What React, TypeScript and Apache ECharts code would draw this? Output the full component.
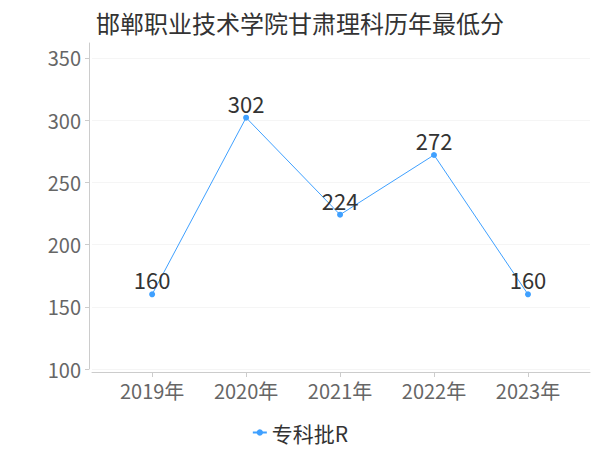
import React, { useEffect, useRef } from "react";
import * as echarts from "echarts";

const titleText = "邯郸职业技术学院甘肃理科历年最低分";
const categories = ["2019年", "2020年", "2021年", "2022年", "2023年"];
const seriesName = "专科批R";
const values = [160, 302, 224, 272, 160];
const yTicks = [100, 150, 200, 250, 300, 350];

export default function App() {
  const ref = useRef<HTMLDivElement>(null);
  useEffect(() => {
    const chart = echarts.init(ref.current!, null, { renderer: "svg" });
    const font = "Noto Sans CJK SC, sans-serif";
    chart.setOption({
      animation: false,
      textStyle: { fontFamily: font },
      title: {
        text: titleText,
        left: "center",
        top: 5,
        textStyle: { fontSize: 24, color: "#333", fontWeight: "normal", fontFamily: font },
      },
      legend: {
        data: [seriesName],
        bottom: 2,
        left: "center",
        itemWidth: 14,
        itemHeight: 8,
        itemGap: 6,
        textStyle: { fontSize: 21, color: "#333", fontFamily: font },
      },
      grid: { left: 92, right: 10, top: 43, bottom: 81, containLabel: false },
      xAxis: {
        type: "value",
        min: -0.64,
        max: 4.66,
        offset: 3,
        axisLine: { show: true, onZero: false, lineStyle: { color: "#ccc" } },
        axisTick: { show: true, customValues: categories.map((_, i) => i), lineStyle: { color: "#ccc" } },
        axisLabel: {
          customValues: categories.map((_, i) => i),
          formatter: (v: number) => categories[Math.round(v)] ?? "",
          fontSize: 20,
          color: "#666",
          margin: 8,
          fontFamily: font,
        },
        splitLine: { show: false },
      },
      yAxis: {
        type: "value",
        min: 100,
        max: 362,
        offset: 3,
        axisLine: { show: true, onZero: false, lineStyle: { color: "#ccc" } },
        axisTick: { show: true, customValues: yTicks, length: 4, lineStyle: { color: "#ccc" } },
        axisLabel: { customValues: yTicks, fontSize: 20, color: "#666", margin: 8, fontFamily: font },
        splitLine: { show: true, lineStyle: { color: "#f5f5f5" } },
      },
      series: [
        {
          name: seriesName,
          type: "line",
          data: values.map((v, i) => [i, v]),
          symbol: "circle",
          symbolSize: 6,
          itemStyle: { color: "#3fa0ff" },
          lineStyle: { color: "#3fa0ff", width: 1 },
          label: { show: true, position: "top", fontSize: 22, color: "#333", distance: 1, fontFamily: font },
        },
      ],
    });
    return () => chart.dispose();
  }, []);
  return <div ref={ref} style={{ width: 600, height: 450, position: "absolute", left: 0, top: 0 }} />;
}
